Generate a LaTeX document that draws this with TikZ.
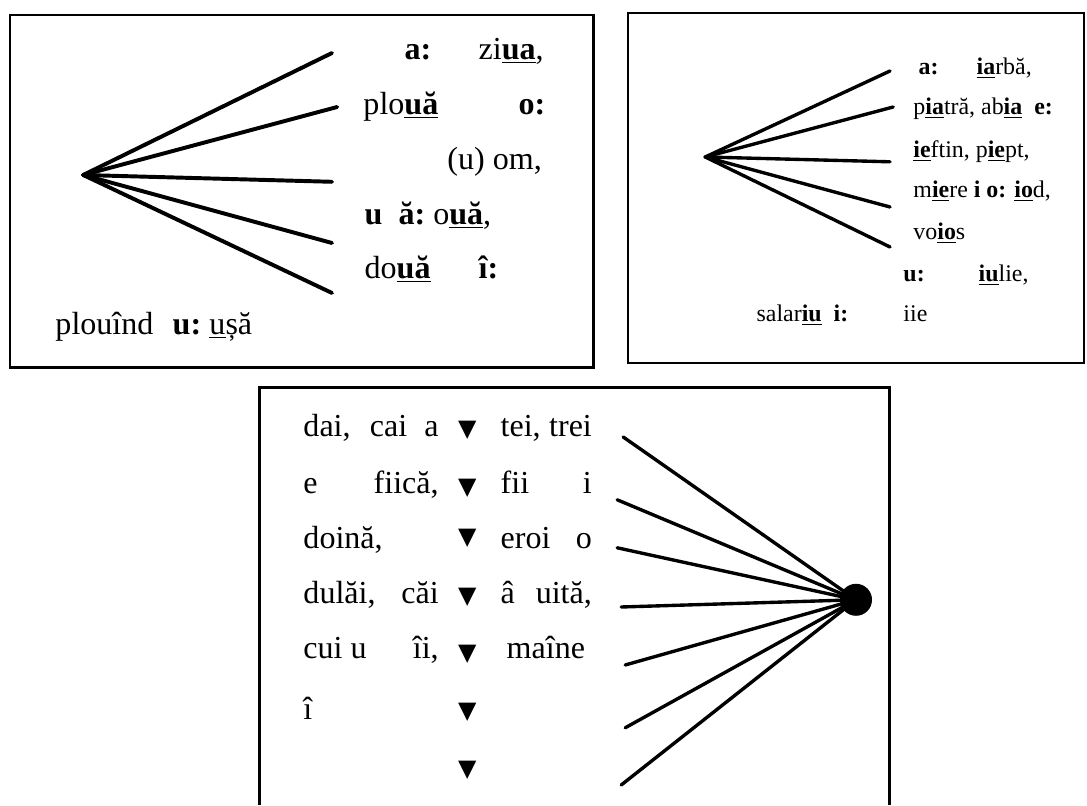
\documentclass[tikz,border=0pt]{standalone}
\usepackage{fontspec}
\setmainfont{Liberation Serif}
\newfontfamily\symfont{DejaVu Sans}
\newcommand{\bu}[1]{\underline{\textbf{#1}}}
\newcommand{\boxbig}{\fontsize{22.8}{27}\selectfont}
\newcommand{\boxsmall}{\fontsize{17}{20}\selectfont}

\begin{document}
\begin{tikzpicture}[line width=2.1pt,
  spoke/.style={line width=2.8pt, line cap=round},
  thinspoke/.style={line width=2.4pt, line cap=round},
  bigword/.style={inner sep=0pt, anchor=base west, font=\boxbig},
  smallword/.style={inner sep=0pt, anchor=base west, font=\boxsmall},
  tri/.style={inner sep=0pt, anchor=center, font=\symfont\fontsize{17}{17}\selectfont}]
  \useasboundingbox (0,0) rectangle (27.175,20.125);

  % first box
  \draw (0.25,10.93) rectangle (14.83,19.75);
  \coordinate (h1) at (2.08,15.75);
  \coordinate (a1) at (8.30,18.80);
  \coordinate (a2) at (8.43,17.45);
  \coordinate (a3) at (8.30,15.58);
  \coordinate (a4) at (8.30,14.05);
  \coordinate (a5) at (8.30,12.80);
  \draw[spoke] (h1) -- (a1);
  \draw[spoke] (h1) -- (a2);
  \draw[spoke] (h1) -- (a3);
  \draw[spoke] (h1) -- (a4);
  \draw[spoke] (h1) -- (a5);
  \node[bigword] (za) at (10.08,18.63) {\textbf{a:}};
  \node[bigword] (ziua) at (11.93,18.63) {zi\bu{ua},};
  \node[bigword] (ploua) at (9.05,17.25) {plo\bu{uă}};
  \node[bigword] (zo) at (12.93,17.25) {\textbf{o:}};
  \node[bigword] (om) at (11.15,15.88) {(u) om,};
  \node[bigword] (oua) at (9.08,14.50) {\textbf{u\ \ ă:}\ o\bu{uă},};
  \node[bigword] (doua) at (9.08,13.15) {do\bu{uă}};
  \node[bigword] (zi) at (11.93,13.15) {\textbf{î:}};
  \node[bigword] (plouind) at (1.35,11.75) {plouînd};
  \node[bigword] (zu) at (4.28,11.75) {\textbf{u:}};
  \node[bigword] (usa) at (5.20,11.75) {\underline{u}șă};

  % second box
  \draw (15.70,11.05) rectangle (27.10,19.80);
  \coordinate (h2) at (17.63,16.20);
  \coordinate (c1) at (22.25,18.35);
  \coordinate (c2) at (22.33,17.45);
  \coordinate (c3) at (22.25,16.08);
  \coordinate (c4) at (22.25,14.95);
  \coordinate (c5) at (22.25,13.95);
  \draw[thinspoke] (h2) -- (c1);
  \draw[thinspoke] (h2) -- (c2);
  \draw[thinspoke] (h2) -- (c3);
  \draw[thinspoke] (h2) -- (c4);
  \draw[thinspoke] (h2) -- (c5);
  \node[smallword] (ya) at (22.93,18.25) {\textbf{a:}};
  \node[smallword] (iarba) at (24.38,18.25) {\bu{ia}rbă,};
  \node[smallword] (piatra) at (22.80,17.25) {p\bu{ia}tră, ab\bu{ia}\ \ \textbf{e:}};
  \node[smallword] (ieftin) at (22.80,16.18) {\bu{ie}ftin, p\bu{ie}pt,};
  \node[smallword] (miere) at (22.80,15.18) {m\bu{ie}re \textbf{i o:} \bu{io}d,};
  \node[smallword] (voios) at (22.80,14.13) {vo\bu{io}s};
  \node[smallword] (yu) at (22.55,13.08) {\textbf{u:}};
  \node[smallword] (iulie) at (24.43,13.08) {\bu{iu}lie,};
  \node[smallword] (salariu) at (18.88,12.08) {salar\bu{iu}\ \ \textbf{i:}};
  \node[smallword] (iie) at (22.55,12.08) {iie};

  % third box
  \draw (6.48,0) |- (22.23,10.43) -- (22.23,0);
  \node[circle, fill, inner sep=0pt, minimum size=0.8cm] (h3) at (21.40,5.13) {};
  \coordinate (b1) at (15.58,9.20);
  \coordinate (b2) at (15.43,7.63);
  \coordinate (b3) at (15.43,6.43);
  \coordinate (b4) at (15.53,4.95);
  \coordinate (b5) at (15.63,3.50);
  \coordinate (b6) at (15.63,1.93);
  \coordinate (b7) at (15.53,0.50);
  \draw[thinspoke] (b1) -- (h3.center);
  \draw[thinspoke] (b2) -- (h3.center);
  \draw[thinspoke] (b3) -- (h3.center);
  \draw[thinspoke] (b4) -- (h3.center);
  \draw[thinspoke] (b5) -- (h3.center);
  \draw[thinspoke] (b6) -- (h3.center);
  \draw[thinspoke] (b7) -- (h3.center);
  \node[bigword] (l1) at (7.55,9.20) {\makebox[3.38cm][s]{dai, cai a}};
  \node[bigword] (l2) at (7.55,7.78) {\makebox[3.38cm][s]{e fiică,}};
  \node[bigword] (l3) at (7.55,6.40) {doină,};
  \node[bigword] (l4) at (7.55,5.03) {\makebox[3.38cm][s]{dulăi, căi}};
  \node[bigword] (l5) at (7.55,3.65) {\makebox[3.38cm][s]{cui u\hfill îi,}};
  \node[bigword] (l6) at (7.55,2.15) {î};
  \node[bigword] (r1) at (12.48,9.20) {\makebox[2.28cm][s]{tei, trei}};
  \node[bigword] (r2) at (12.48,7.78) {\makebox[2.28cm][s]{fii i}};
  \node[bigword] (r3) at (12.48,6.40) {\makebox[2.28cm][s]{eroi o}};
  \node[bigword] (r4) at (12.48,5.03) {\makebox[2.28cm][s]{â uită,}};
  \node[bigword] (r5) at (12.63,3.65) {maîne};
  \node[tri] (m1) at (11.68,9.38) {▼};
  \node[tri] (m2) at (11.68,7.93) {▼};
  \node[tri] (m3) at (11.68,6.68) {▼};
  \node[tri] (m4) at (11.68,5.20) {▼};
  \node[tri] (m5) at (11.68,3.78) {▼};
  \node[tri] (m6) at (11.68,2.33) {▼};
  \node[tri] (m7) at (11.68,0.88) {▼};
\end{tikzpicture}
\end{document}
